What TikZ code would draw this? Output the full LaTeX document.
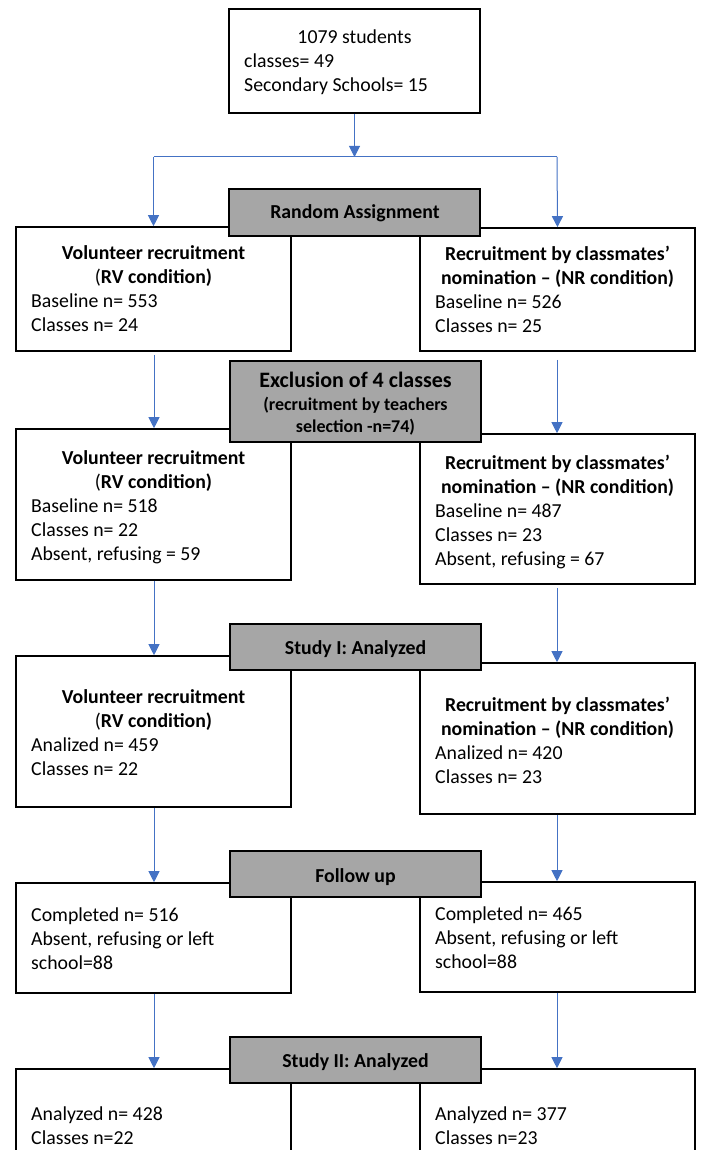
\documentclass[tikz,border=0pt]{standalone}
\usepackage{fontspec}
\setmainfont{Carlito}
\usetikzlibrary{arrows.meta,calc}
\definecolor{arrowblue}{RGB}{68,114,196}
\definecolor{boxgray}{RGB}{166,166,166}
\begin{document}
\begin{tikzpicture}[x=1pt,y=-1pt,
  box/.style={draw=black,line width=1.6pt,fill=white,inner sep=0pt,minimum width=275pt},
  graybox/.style={draw=black,line width=1.6pt,fill=boxgray,inner sep=0pt,minimum width=251pt,minimum height=46pt},
  arr/.style={draw=arrowblue,line width=1pt,-{Triangle[width=11pt,length=11pt]}},
  conn/.style={draw=arrowblue,line width=1pt},
  body/.style={font=\fontsize{19.8}{24}\selectfont,inner sep=0pt,anchor=base west},
  head/.style={font=\fontsize{19.8}{24}\selectfont\bfseries,inner sep=0pt,anchor=base},
  bigtitle/.style={font=\fontsize{22}{26}\selectfont\bfseries,inner sep=0pt,anchor=base},
  subtitle/.style={font=\fontsize{18}{22}\selectfont\bfseries,inner sep=0pt,anchor=base},
]
\useasboundingbox (0,0) rectangle (701,1150);
\clip (0,0) rectangle (701,1150);

% white boxes
\node[box,minimum width=251pt,minimum height=104pt] (top) at (354.5,61) {};
\node[box,minimum height=124pt] (L1) at (153.5,289) {};
\node[box,minimum height=123pt] (R1) at (557.5,289.5) {};
\node[box,minimum height=151pt] (L2) at (153.5,504.5) {};
\node[box,minimum height=150pt] (R2) at (557.5,509) {};
\node[box,minimum height=151pt] (L3) at (153.5,731.5) {};
\node[box,minimum height=151pt] (R3) at (557.5,738.5) {};
\node[box,minimum height=110pt] (L4) at (153.5,938) {};
\node[box,minimum height=110pt] (R4) at (557.5,937) {};
\node[box,minimum height=120pt] (L5) at (153.5,1129) {};
\node[box,minimum height=120pt] (R5) at (557.5,1129) {};

% gray boxes
\node[graybox,minimum height=47pt] (RA) at (354.5,212.5) {};
\node[graybox,minimum height=81pt] (EX) at (355.5,401.5) {};
\node[graybox] (S1) at (355.5,647) {};
\node[graybox] (FU) at (355.5,874) {};
\node[graybox] (S2) at (355.5,1060) {};

% connectors
\coordinate (sp) at (354.5,157);
\coordinate (spl) at (153.5,157);
\coordinate (spr) at (557,157);
\draw[arr] (top.south) -- (sp);
\draw[conn] (spl) -- (spr);
\draw[arr] (spl) -- (L1.north);
\draw[arr] (spr) -- (R1.north);
\draw[arr] ($(L1.south)+(0.5,3)$) -- ($(L2.north)+(0.5,0)$);
\draw[arr] ($(R1.south)+(-0.5,8)$) -- ($(R2.north)+(-0.5,0)$);
\draw[arr] ($(L2.south)+(0.5,0)$) -- ($(L3.north)+(0.5,0)$);
\draw[arr] ($(R2.south)+(-0.5,3)$) -- ($(R3.north)+(-0.5,0)$);
\draw[arr] ($(L3.south)+(0.5,0)$) -- ($(L4.north)+(0.5,0)$);
\draw[arr] ($(R3.south)+(-0.5,0)$) -- ($(R4.north)+(-0.5,0)$);
\draw[arr] ($(L4.south)+(0.5,0)$) -- ($(L5.north)+(0.5,0)$);
\draw[arr] ($(R4.south)+(-0.5,0)$) -- ($(R5.north)+(-0.5,0)$);

% texts: top
\node[body,anchor=base] (t1) at (354.5,44) {1079 students};
\node[body] (t2) at (244,68) {classes= 49};
\node[body] (t3) at (244,92) {Secondary Schools= 15};
% random assignment
\node[head] (ra) at (355,219) {Random Assignment};
% row 1
\node[head] (l1a) at (153.5,259) {Volunteer recruitment};
\node[head] (l1b) at (153.5,283) {{\mdseries(}RV condition)};
\node[body] (l1c) at (31,307) {Baseline n= 553};
\node[body] (l1d) at (31,331) {Classes n= 24};
\node[head] (r1a) at (557.5,260) {Recruitment by classmates’};
\node[head] (r1b) at (557.5,284) {nomination – (NR condition)};
\node[body] (r1c) at (435,308) {Baseline n= 526};
\node[body] (r1d) at (435,332) {Classes n= 25};
% exclusion
\node[bigtitle] (exa) at (355.5,387) {Exclusion of 4 classes};
\node[subtitle] (exb) at (355.5,410) {(recruitment by teachers};
\node[subtitle] (exc) at (355.5,432) {selection -n=74)};
% row 2
\node[head] (l2a) at (153.5,464) {Volunteer recruitment};
\node[head] (l2b) at (153.5,488) {{\mdseries(}RV condition)};
\node[body] (l2c) at (31,512) {Baseline n= 518};
\node[body] (l2d) at (31,536) {Classes n= 22};
\node[body] (l2e) at (31,560) {Absent, refusing = 59};
\node[head] (r2a) at (557.5,469) {Recruitment by classmates’};
\node[head] (r2b) at (557.5,493) {nomination – (NR condition)};
\node[body] (r2c) at (435,517) {Baseline n= 487};
\node[body] (r2d) at (435,541) {Classes n= 23};
\node[body] (r2e) at (435,565) {Absent, refusing = 67};
% study I
\node[head] (s1) at (355.5,654) {Study I: Analyzed};
% row 3
\node[head] (l3a) at (153.5,703) {Volunteer recruitment};
\node[head] (l3b) at (153.5,727) {{\mdseries(}RV condition)};
\node[body] (l3c) at (31,751) {Analized n= 459};
\node[body] (l3d) at (31,775) {Classes n= 22};
\node[head] (r3a) at (557.5,711) {Recruitment by classmates’};
\node[head] (r3b) at (557.5,735) {nomination – (NR condition)};
\node[body] (r3c) at (435,759) {Analized n= 420};
\node[body] (r3d) at (435,783) {Classes n= 23};
% follow up
\node[head] (fu) at (355.5,882) {Follow up};
% row 4
\node[body] (l4a) at (31,921) {Completed n= 516};
\node[body] (l4b) at (31,945) {Absent, refusing or left};
\node[body] (l4c) at (31,969) {school=88};
\node[body] (r4a) at (435,920) {Completed n= 465};
\node[body] (r4b) at (435,944) {Absent, refusing or left};
\node[body] (r4c) at (435,968) {school=88};
% study II
\node[head] (s2) at (355.5,1067) {Study II: Analyzed};
% row 5
\node[body] (l5a) at (31,1120) {Analyzed n= 428};
\node[body] (l5b) at (31,1144) {Classes n=22};
\node[body] (r5a) at (435,1120) {Analyzed n= 377};
\node[body] (r5b) at (435,1144) {Classes n=23};
\end{tikzpicture}
\end{document}
